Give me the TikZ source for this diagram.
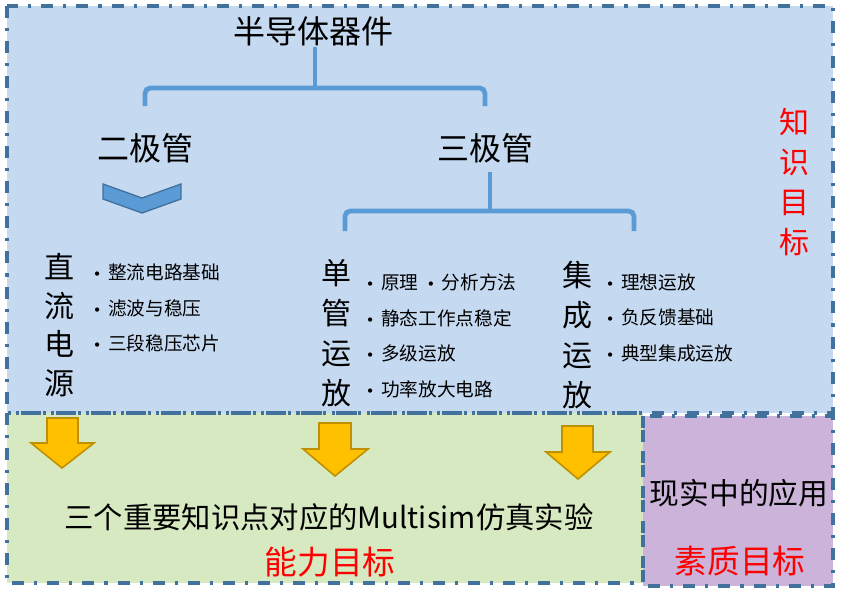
\documentclass[tikz,border=0pt]{standalone}
\usepackage{fontspec}
\setmainfont{Noto Sans CJK SC}
\newfontfamily\symf{DejaVu Sans}
\definecolor{bluebg}{HTML}{C5D9F1}
\definecolor{greenbg}{HTML}{D7E9C1}
\definecolor{purplebg}{HTML}{CBB3DA}
\definecolor{frame}{HTML}{41719C}
\definecolor{bracec}{HTML}{5B9BD5}
\definecolor{goldf}{HTML}{FFC000}
\definecolor{goldd}{HTML}{BF9000}
\definecolor{redt}{HTML}{FF0000}
\tikzset{
  panel/.style={draw=frame, line width=2.5pt, dash pattern=on 9pt off 7.5pt on 2.3pt off 7.5pt},
  brace/.style={draw=bracec, line width=3.6pt, rounded corners=4pt},
  chev/.style={fill=bracec, draw=frame, line width=1pt, line join=miter},
  goldarrow/.style={fill=goldf, draw=goldd, line width=1.2pt, line join=miter},
  title/.style={inner sep=0pt, font=\fontsize{24pt}{29pt}\selectfont},
  vert/.style={inner sep=0pt, align=center, font=\fontsize{22.5pt}{30pt}\selectfont},
  vertred/.style={vert, text=redt},
  itm/.style={inner sep=0pt, anchor=west, font=\fontsize{14pt}{17pt}\selectfont},
  big/.style={inner sep=0pt, font=\fontsize{22pt}{26pt}\selectfont},
  goal/.style={inner sep=0pt, text=redt, font=\fontsize{24.5pt}{29pt}\selectfont},
}
\newcommand{\bul}{\makebox[16.5pt][c]{\symf\fontsize{11pt}{13pt}\selectfont •}}
\begin{document}
\begin{tikzpicture}[x=0.75pt, y=-0.75pt]
\useasboundingbox (0,0) rectangle (841,590);
% panels
\fill[bluebg] (7,6) rectangle (833,413);
\fill[greenbg] (7,413) rectangle (643,583);
\fill[purplebg] (643,416) rectangle (833,586);
\draw[panel] (7,6) rectangle (833,413);
\draw[panel] (7,413) rectangle (643,583);
\draw[panel] (643,416) rectangle (833,586);

% titles
\node[title] (semi) at (313,31) {半导体器件};
\node[title] (diode) at (145,148) {二极管};
\node[title] (tri) at (485,148) {三极管};

% top brace
\coordinate (b1s) at (315,47);
\coordinate (b1m) at (315,88);
\coordinate (b1l) at (145,106);
\coordinate (b1r) at (485,106);
\draw[brace] (b1l) -- (b1l |- b1m) -- (b1r |- b1m) -- (b1r);
\draw[draw=bracec, line width=3.6pt] (b1s) -- (b1m);

% second brace
\coordinate (b2s) at (490,172);
\coordinate (b2m) at (490,211);
\coordinate (b2l) at (345,231);
\coordinate (b2r) at (634,231);
\draw[brace] (b2l) -- (b2l |- b2m) -- (b2r |- b2m) -- (b2r);
\draw[draw=bracec, line width=3.6pt] (b2s) -- (b2m);

% chevron
\draw[chev] (103,184) -- (142,198) -- (181,184) -- (181,199) -- (142,213) -- (103,199) -- cycle;

% DC power
\node[vert, font=\fontsize{22.5pt}{29pt}\selectfont] (dc) at (59,325) {直\\流\\电\\源};
\node[itm] (dc1) at (86,272) {\bul 整流电路基础};
\node[itm] (dc2) at (86,308) {\bul 滤波与稳压};
\node[itm] (dc3) at (86,343) {\bul 三段稳压芯片};

% single-transistor amp
\node[vert] (sa) at (336,333) {单\\管\\运\\放};
\node[itm] (sa1) at (359,282) {\bul 原理\hspace{1pt}\bul 分析方法};
\node[itm] (sa2) at (359,318) {\bul 静态工作点稳定};
\node[itm] (sa3) at (359,353) {\bul 多级运放};
\node[itm] (sa4) at (359,389) {\bul 功率放大电路};

% integrated op-amp
\node[vert] (ia) at (577,335) {集\\成\\运\\放};
\node[itm] (ia1) at (599,282) {\bul 理想运放};
\node[itm] (ia2) at (599,317) {\bul 负反馈基础};
\node[itm] (ia3) at (599,353) {\bul 典型集成运放};

% knowledge goal
\node[vertred] (kg) at (794,182) {知\\识\\目\\标};

% gold arrows
\draw[goldarrow] (47,418) -- (78,418) -- (78,443) -- (94,443) -- (62,468) -- (31,443) -- (47,443) -- cycle;
\draw[goldarrow] (319,423) -- (351,423) -- (351,449) -- (368,449) -- (335,476) -- (303,449) -- (319,449) -- cycle;
\draw[goldarrow] (562,426) -- (593,426) -- (593,452) -- (610,452) -- (578,479) -- (546,452) -- (562,452) -- cycle;

% bottom texts
\node[big] (sim) at (329,517) {三个重要知识点对应的Multisim仿真实验};
\node[goal] (ability) at (330,562) {能力目标};
\node[inner sep=0pt, font=\fontsize{22.3pt}{26pt}\selectfont] (app) at (739,493) {现实中的应用};
\node[goal] (quality) at (740,561) {素质目标};
\end{tikzpicture}
\end{document}
